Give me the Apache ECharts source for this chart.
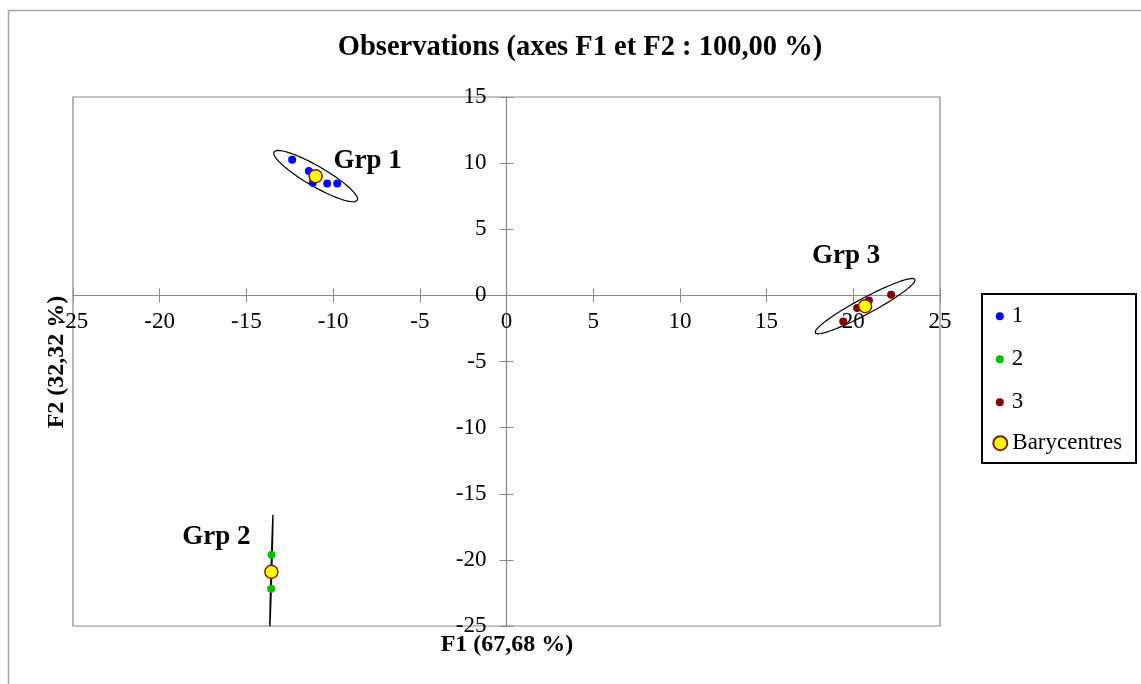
<!DOCTYPE html>
<html>
<head>
<meta charset="utf-8">
<script src="https://cdn.jsdelivr.net/npm/echarts@6/dist/echarts.min.js"></script>
<style>
  html, body { margin: 0; padding: 0; background: #fff; }
  #chart { width: 1141px; height: 684px; }
</style>
</head>
<body>
<div id="chart"></div>
<script>
// Observations projected on the first factorial plane (F1, F2)
const groupNames = ['1', '2', '3'];
const groupLabels = ['Grp 1', 'Grp 2', 'Grp 3'];
const grp1 = [[-12.36, 10.26], [-11.40, 9.40], [-11.17, 8.52], [-10.34, 8.45], [-9.76, 8.45]];
const grp2 = [[-13.55, -19.62], [-13.57, -22.19]];
const grp3 = [[19.42, -1.97], [20.22, -0.96], [20.90, -0.38], [22.18, 0.05]];
// Confidence ellipse half-axes per group, in F1/F2 units: [major dF1, major dF2, minor dF1, minor dF2]
const ellipseAxes = [
  [2.405, -1.83, -0.29, -0.654],
  [0.092, 4.31, 0.025, -0.001],
  [2.884, 2.027, 0.218, -0.534]
];
const xTicks = { min: -25, max: 25, step: 5 };
const yTicks = { min: -25, max: 15, step: 5 };

const groups = [grp1, grp2, grp3];
const groupColors = ['#0000FF', '#00BF00', '#800000'];
const FONT = "'Liberation Serif', 'Times New Roman', serif";

// Barycentre of each group = mean of its observations
const barycentres = groups.map(g => [
  g.reduce((s, p) => s + p[0], 0) / g.length,
  g.reduce((s, p) => s + p[1], 0) / g.length
]);

function ellipsePoints(center, ax) {
  const pts = [];
  const n = 180;
  for (let i = 0; i <= n; i++) {
    const t = (i / n) * Math.PI * 2;
    pts.push([
      center[0] + ax[0] * Math.cos(t) + ax[2] * Math.sin(t),
      center[1] + ax[1] * Math.cos(t) + ax[3] * Math.sin(t)
    ]);
  }
  return pts;
}

const labelOffsets = [[52, -15], [-55, -35], [-19, -50]];

// Plot box
const G = { left: 73, top: 97, width: 867, height: 529 };
// Axes cross at the origin: shift each axis from its grid edge to the zero line
const zeroFromBottom = G.height * (0 - yTicks.min) / (yTicks.max - yTicks.min);
const zeroFromLeft = G.width * (0 - xTicks.min) / (xTicks.max - xTicks.min);

const axisGray = '#8a8a8a';
const tickLabelStyle = { fontFamily: FONT, fontSize: 23, color: '#000' };

const series = [];
groups.forEach((g, i) => {
  series.push({
    name: 'ellipse' + (i + 1),
    type: 'line',
    data: ellipsePoints(barycentres[i], ellipseAxes[i]),
    showSymbol: false,
    symbol: 'none',
    smooth: false,
    clip: true,
    silent: true,
    lineStyle: { color: '#000', width: 1.2 },
    z: 1
  });
});
groups.forEach((g, i) => {
  series.push({
    name: groupNames[i],
    type: 'scatter',
    data: g,
    symbol: 'circle',
    symbolSize: 8,
    itemStyle: { color: groupColors[i], opacity: 1 },
    z: 3
  });
});
series.push({
  name: 'Barycentres',
  type: 'scatter',
  symbol: 'circle',
  symbolSize: 13,
  itemStyle: { color: '#FFFF00', borderColor: '#8B1A00', borderWidth: 1.5, opacity: 1 },
  data: barycentres.map((b, i) => ({
    value: b,
    label: { formatter: groupLabels[i], offset: labelOffsets[i] }
  })),
  label: {
    show: true,
    position: 'inside',
    color: '#000',
    opacity: 1,
    fontFamily: FONT,
    fontSize: 27,
    fontWeight: 'bold'
  },
  z: 4
});

const chart = echarts.init(document.getElementById('chart'), null, { renderer: 'canvas' });
chart.setOption({
  animation: false,
  backgroundColor: '#fff',
  title: {
    text: 'Observations (axes F1 et F2 : 100,00 %)',
    left: 580,
    top: 33,
    textAlign: 'center',
    padding: 0,
    textStyle: { fontFamily: FONT, fontSize: 28.5, fontWeight: 'bold', color: '#000' }
  },
  grid: {
    left: G.left, top: G.top, width: G.width, height: G.height,
    show: true, borderColor: axisGray, borderWidth: 1.2, backgroundColor: 'transparent'
  },
  xAxis: [
    {
      type: 'value', min: xTicks.min, max: xTicks.max, interval: xTicks.step,
      position: 'bottom', offset: -zeroFromBottom,
      axisLine: { show: true, onZero: false, lineStyle: { color: axisGray, width: 1.2 } },
      axisTick: { show: true, length: 7, lineStyle: { color: axisGray } },
      axisLabel: Object.assign({ margin: 15 }, tickLabelStyle),
      splitLine: { show: false }
    },
    {
      type: 'value', min: xTicks.min, max: xTicks.max, interval: xTicks.step,
      position: 'top', offset: -(G.height - zeroFromBottom),
      axisLine: { show: false, onZero: false },
      axisTick: { show: true, length: 7, lineStyle: { color: axisGray } },
      axisLabel: { show: false },
      splitLine: { show: false }
    }
  ],
  yAxis: [
    {
      type: 'value', min: yTicks.min, max: yTicks.max, interval: yTicks.step,
      position: 'left', offset: -zeroFromLeft,
      axisLine: { show: true, onZero: false, lineStyle: { color: axisGray, width: 1.2 } },
      axisTick: { show: true, length: 7, lineStyle: { color: axisGray } },
      axisLabel: Object.assign({ margin: 20, padding: [4, 0, 0, 0] }, tickLabelStyle),
      splitLine: { show: false }
    },
    {
      type: 'value', min: yTicks.min, max: yTicks.max, interval: yTicks.step,
      position: 'right', offset: -(G.width - zeroFromLeft),
      axisLine: { show: false, onZero: false },
      axisTick: { show: true, length: 7, lineStyle: { color: axisGray } },
      axisLabel: { show: false },
      splitLine: { show: false }
    }
  ],
  legend: [
    {
      data: groupNames,
      orient: 'vertical',
      left: 995.8, top: 304.7,
      padding: 0,
      itemWidth: 8, itemHeight: 8, itemGap: 20,
      icon: 'circle',
      selectedMode: false,
      textStyle: { fontFamily: FONT, fontSize: 23, lineHeight: 22, color: '#000', padding: [0, 0, 0, 3] }
    },
    {
      data: ['Barycentres'],
      orient: 'vertical',
      left: 992.3, top: 431.7,
      padding: 0,
      itemWidth: 14, itemHeight: 14,
      icon: 'circle',
      selectedMode: false,
      textStyle: { fontFamily: FONT, fontSize: 23, lineHeight: 22, color: '#000' }
    }
  ],
  graphic: [
    {
      type: 'rect', silent: true, z: -10,
      shape: { x: 8.5, y: 10.5, width: 1140, height: 680 },
      style: { fill: 'none', stroke: '#a6a6a6', lineWidth: 1.5 }
    },
    {
      type: 'rect', silent: true,
      shape: { x: 982, y: 294, width: 154, height: 169 },
      style: { fill: 'none', stroke: '#000', lineWidth: 2 }
    },
    {
      type: 'text', silent: true,
      x: 507, y: 645,
      style: { text: 'F1 (67,68 %)', fontFamily: FONT, fontSize: 24, fontWeight: 'bold', fill: '#000', textAlign: 'center', textVerticalAlign: 'middle' }
    },
    {
      type: 'text', silent: true,
      x: 57, y: 362, rotation: Math.PI / 2,
      style: { text: 'F2 (32,32 %)', fontFamily: FONT, fontSize: 24, fontWeight: 'bold', fill: '#000', textAlign: 'center', textVerticalAlign: 'middle' }
    }
  ],
  series: series
});
</script>
</body>
</html>
